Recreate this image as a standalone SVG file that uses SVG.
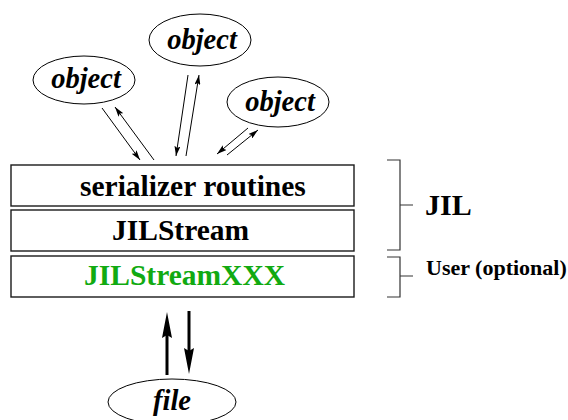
<svg xmlns="http://www.w3.org/2000/svg" width="568" height="420" viewBox="0 0 568 420">
  <style>
    .box { fill: #fff; stroke: #1a1a1a; stroke-width: 1.4; }
    .ell { fill: #fff; stroke: #000; stroke-width: 1; }
    .thin { stroke: #000; stroke-width: 1; fill: none; }
    .thick { stroke: #000; stroke-width: 3; fill: none; }
    .brk { stroke: #333; stroke-width: 1.2; fill: none; }
    .lbl { font-family: "Liberation Serif", "Times New Roman", serif; font-weight: bold; font-size: 29.5px; fill: #000; }
    .obj { font-family: "Liberation Serif", "Times New Roman", serif; font-weight: bold; font-style: italic; font-size: 28.5px; fill: #000; text-anchor: middle; }
    .side { font-family: "Liberation Serif", "Times New Roman", serif; font-weight: bold; fill: #000; }
  </style>
  <defs>
    <marker id="tip" viewBox="0 0 10 6" refX="10" refY="3" markerWidth="10" markerHeight="6" markerUnits="userSpaceOnUse" orient="auto">
      <path d="M0,0 L10,3 L0,6 L2,3 Z" fill="#000"/>
    </marker>
  </defs>

  <!-- layered stack -->
  <g id="serializer">
    <rect class="box" x="11" y="165" width="343" height="41"/>
    <text class="lbl" x="80" y="196">serializer routines</text>
  </g>
  <g id="jilstream">
    <rect class="box" x="11" y="210" width="343" height="41"/>
    <text class="lbl" x="112" y="240">JILStream</text>
  </g>
  <g id="jilstreamxxx">
    <rect class="box" x="11" y="256" width="343" height="41"/>
    <text class="lbl" x="84" y="285" style="fill:#11aa11">JILStreamXXX</text>
  </g>

  <!-- objects -->
  <g id="object1">
    <ellipse class="ell" cx="84" cy="80" rx="51" ry="24"/>
    <text class="obj" x="86" y="88">object</text>
  </g>
  <g id="object2">
    <ellipse class="ell" cx="200" cy="40" rx="51" ry="26"/>
    <text class="obj" x="202" y="49">object</text>
  </g>
  <g id="object3">
    <ellipse class="ell" cx="278" cy="102" rx="51" ry="25"/>
    <text class="obj" x="280" y="111">object</text>
  </g>
  <g id="file">
    <ellipse class="ell" cx="172" cy="402" rx="64" ry="23"/>
    <text class="obj" x="172" y="410">file</text>
  </g>

  <!-- layer brackets -->
  <g id="jil">
    <path class="brk" d="M387,160 H400 V250 H387 M400,205 H413"/>
    <text class="side" x="425" y="215" font-size="30">JIL</text>
  </g>
  <g id="user">
    <path class="brk" d="M387,257 H400 V297 H387 M400,276 H413"/>
    <text class="side" x="426" y="275" font-size="22">User (optional)</text>
  </g>

  <!-- connectors -->
  <g id="connectors">
    <line class="thin" x1="102" y1="108" x2="140" y2="160" marker-end="url(#tip)"/>
    <line class="thin" x1="154" y1="160" x2="115" y2="107" marker-end="url(#tip)"/>
    <line class="thin" x1="188" y1="75" x2="176" y2="156" marker-end="url(#tip)"/>
    <line class="thin" x1="186" y1="156" x2="199" y2="75" marker-end="url(#tip)"/>
    <line class="thin" x1="248" y1="128" x2="217" y2="154" marker-end="url(#tip)"/>
    <line class="thin" x1="227" y1="155" x2="258" y2="130" marker-end="url(#tip)"/>
    <line class="thick" x1="167" y1="375" x2="167" y2="330"/>
    <path d="M167,312 L172,338 L167,335 L162,338 Z" fill="#000"/>
    <line class="thick" x1="189" y1="311" x2="189" y2="356"/>
    <path d="M189,374 L194,348 L189,351 L184,348 Z" fill="#000"/>
  </g>
</svg>
